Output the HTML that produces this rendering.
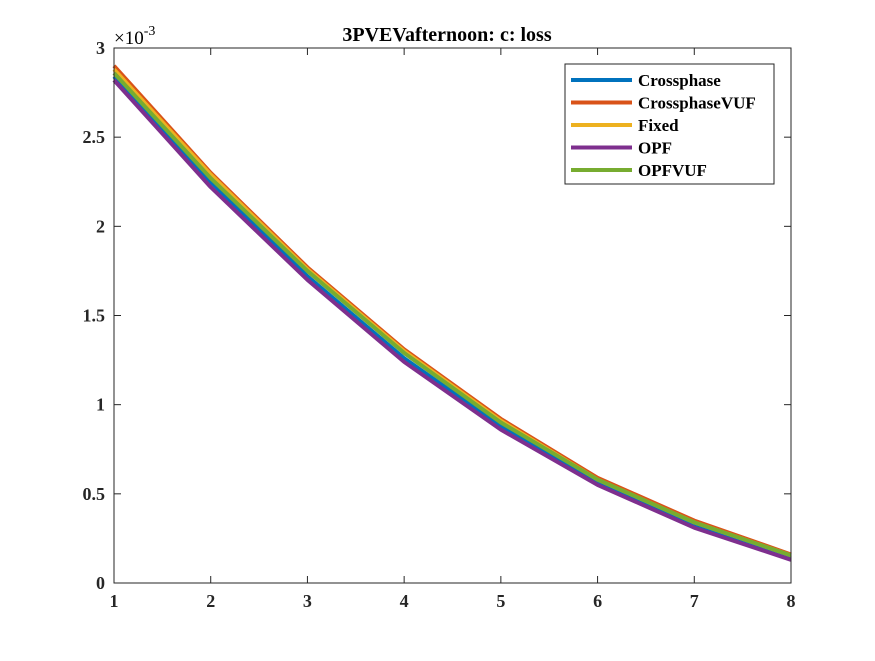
<!DOCTYPE html>
<html><head><meta charset="utf-8"><style>
body{margin:0;background:#fff;}
svg text{font-family:"Liberation Serif",serif;font-weight:bold;}
</style></head><body>
<svg id="chart" width="875" height="656" xmlns="http://www.w3.org/2000/svg">
<rect width="875" height="656" fill="#fff"/>
<text x="447" y="41" font-size="20" text-anchor="middle">3PVEVafternoon: c: loss</text>
<text x="114" y="44" font-size="19" style="font-weight:normal">×10<tspan dy="-9" font-size="14">-3</tspan></text>
<g id="grid"></g>
<g id="series"></g>
<rect x="114" y="48" width="677" height="535" fill="none" stroke="#262626" stroke-width="1"/>
<g id="legend"></g>
</svg>
<script>
const categories=[1,2,3,4,5,6,7,8];
const crossphase=[2.84,2.25,1.72,1.26,0.88,0.56,0.32,0.14];
const crossphaseVUF=[2.90,2.30,1.77,1.31,0.92,0.59,0.35,0.16];
const fixed=[2.88,2.29,1.76,1.30,0.91,0.58,0.34,0.155];
const opf=[2.82,2.22,1.70,1.24,0.86,0.55,0.31,0.13];
const opfVUF=[2.86,2.27,1.75,1.29,0.90,0.58,0.34,0.155];
const xTicks=[1,2,3,4,5,6,7,8];
const yTicks=[0,0.5,1,1.5,2,2.5,3];
const yTickLabels=["0","0.5","1","1.5","2","2.5","3"];
const seriesNames=["Crossphase","CrossphaseVUF","Fixed","OPF","OPFVUF"];
const seriesColors=["#0072BD","#D95319","#EDB120","#7E2F8E","#77AC30"];
const seriesData=[crossphase,crossphaseVUF,fixed,opf,opfVUF];
const NS="http://www.w3.org/2000/svg";
const X0=114,X1=791,Y0=583,Y1=48;
const xs=v=>X0+(v-1)/(8-1)*(X1-X0);
const ys=v=>Y0-(v/3)*(Y0-Y1);
function mk(t,a,p){const e=document.createElementNS(NS,t);for(const k in a)e.setAttribute(k,a[k]);p.appendChild(e);return e;}
const grid=document.getElementById('grid');
xTicks.forEach((t,i)=>{
 const x=xs(t);
 mk('line',{x1:x,x2:x,y1:Y0,y2:Y0-7,stroke:'#262626'},grid);
 mk('line',{x1:x,x2:x,y1:Y1,y2:Y1+7,stroke:'#262626'},grid);
 const tx=mk('text',{x:x,y:Y0+24,'font-size':18,'text-anchor':'middle',fill:'#262626'},grid);
 tx.textContent=t;
 
 
});
yTicks.forEach((t,i)=>{
 const y=ys(t);
 mk('line',{x1:X0,x2:X0+7,y1:y,y2:y,stroke:'#262626'},grid);
 mk('line',{x1:X1,x2:X1-7,y1:y,y2:y,stroke:'#262626'},grid);
 const tx=mk('text',{x:X0-9,y:y+6,'font-size':18,'text-anchor':'end',fill:'#262626'},grid);
 tx.textContent=yTickLabels[i];
 
 
});
const sg=document.getElementById('series');
seriesData.forEach((d,i)=>{
 const pts=d.map((v,j)=>xs(categories[j])+','+ys(v)).join(' ');
 const pl=mk('polyline',{points:pts,fill:'none',stroke:seriesColors[i],'stroke-width':4,'stroke-linejoin':'round'},sg);
 
 
});
const lg=document.getElementById('legend');
mk('rect',{x:565,y:64,width:209,height:120,fill:'#fff',stroke:'#262626'},lg);
seriesNames.forEach((n,i)=>{
 const y=80+i*22.5;
 const ln=mk('line',{x1:571,x2:632,y1:y,y2:y,stroke:seriesColors[i],'stroke-width':4},lg);
 
 
 const tx=mk('text',{x:638,y:y+6,'font-size':17,fill:'#000'},lg);
 tx.textContent=n;
 
 
});
</script>
</body></html>
